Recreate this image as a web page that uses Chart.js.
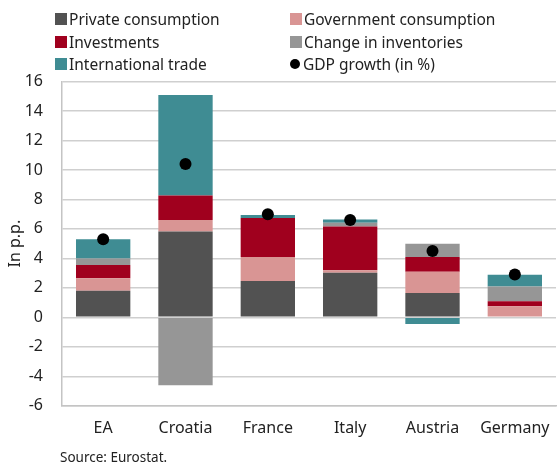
<!DOCTYPE html>
<html>
<head>
<meta charset="utf-8">
<script src="https://cdn.jsdelivr.net/npm/chart.js@4.4.1/dist/chart.umd.min.js"></script>
<style>
  body { margin: 0; background: #fff; font-family: "Noto Sans", sans-serif; }
  #wrap { position: relative; width: 558px; height: 467px; overflow: hidden; }
  canvas { position: absolute; left: 0; top: 0; }
  #legend { position: absolute; left: 55px; top: 8px; display: grid; grid-template-columns: 235px 260px; }
  .item { display: flex; align-items: center; height: 22.5px; font-size: 15.5px; color: #222; white-space: nowrap; }
  .box { width: 12px; height: 12px; margin-right: 2px; }
  .dot { width: 10px; height: 10px; border-radius: 50%; background: #000; margin-right: 3px; }
  #source { position: absolute; left: 60px; top: 448px; font-size: 13.5px; color: #222; }
</style>
</head>
<body>
<div id="wrap">
  <canvas id="chart" width="562" height="457"></canvas>
  <div id="legend"></div>
  <div id="source">Source: Eurostat.</div>
</div>
<script>
// data (percentage points)
const countries = ["EA", "Croatia", "France", "Italy", "Austria", "Germany"];
const privateCons = [1.8, 5.82, 2.46, 3.02, 1.66, 0];
const govCons = [0.85, 0.78, 1.64, 0.17, 1.43, 0.75];
const investments = [0.9, 1.66, 2.64, 2.98, 1.0, 0.34];
const inventories = [0.45, -4.6, 0, 0.25, 0.9, 1.01];
const trade = [1.3, 6.82, 0.2, 0.22, -0.45, 0.79];
const gdpGrowth = [5.3, 10.4, 7.0, 6.6, 4.5, 2.9];
const yTicks = { min: -6, max: 16, step: 2 };

const bar = (label, data, color) => ({
  type: "bar", label, data, backgroundColor: color, borderWidth: 0,
  stack: "gdp-parts", order: 1, categoryPercentage: 1, barPercentage: 0.66
});

const datasets = [
  bar("Private consumption", privateCons, "#525252"),
  bar("Government consumption", govCons, "#d99594"),
  bar("Investments", investments, "#a0001e"),
  bar("Change in inventories", inventories, "#969696"),
  bar("International trade", trade, "#3f8c93"),
  {
    type: "line", label: "GDP growth (in %)", data: gdpGrowth, stack: "gdp",
    showLine: false, pointRadius: 6, pointHoverRadius: 6,
    pointBackgroundColor: "#000", pointBorderWidth: 0, order: 0
  }
];

// legend in two columns like the original
const legend = document.getElementById("legend");
datasets.forEach(ds => {
  const item = document.createElement("div");
  item.className = "item";
  const mark = document.createElement("span");
  if (ds.type === "line") {
    mark.className = "dot";
  } else {
    mark.className = "box";
    mark.style.background = ds.backgroundColor;
  }
  item.appendChild(mark);
  item.appendChild(document.createTextNode(ds.label));
  legend.appendChild(item);
});

const font = { family: "'Noto Sans', sans-serif", size: 16 };

new Chart(document.getElementById("chart"), {
  data: { labels: countries, datasets },
  options: {
    responsive: false,
    animation: false,
    devicePixelRatio: 1,
    layout: { padding: { top: 81.5, left: 6, right: 0, bottom: 14 } },
    plugins: { legend: { display: false }, tooltip: { enabled: false } },
    scales: {
      x: {
        stacked: true,
        grid: { display: false },
        border: { color: "#c4c4c4", width: 1.5 },
        ticks: { color: "#222", font, padding: 5 }
      },
      y: {
        stacked: true,
        min: yTicks.min,
        max: yTicks.max,
        afterFit: (scale) => { scale.width = 56; },
        ticks: { stepSize: yTicks.step, color: "#222", font, padding: 19 },
        grid: { color: "#cfcfcf", lineWidth: 1.5, drawTicks: false },
        border: { color: "#c4c4c4", width: 1.5 },
        title: { display: true, text: "In p.p.", color: "#222", font, padding: 0 }
      }
    }
  }
});
</script>
</body>
</html>
